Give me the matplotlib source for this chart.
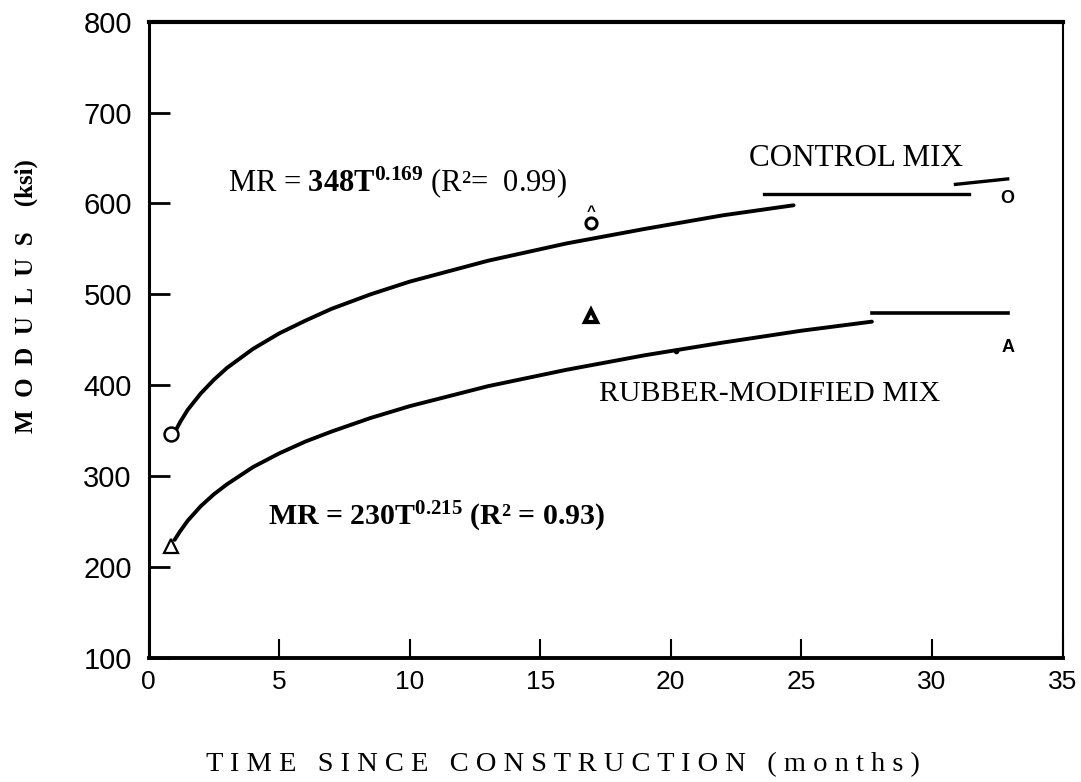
import matplotlib
matplotlib.use('Agg')
import matplotlib.pyplot as plt

# values
ctrl_t = [1, 1.2, 1.5, 2, 2.5, 3, 4, 5, 6, 7, 8.5, 10, 13, 16, 19, 22, 24.7]
ctrl_mr = [348, 359, 373, 391, 406, 419, 440, 457, 471, 484, 500, 514, 537, 556, 572, 587, 598]
rubb_t = [1, 1.2, 1.5, 2, 2.5, 3, 4, 5, 6, 7, 8.5, 10, 13, 16, 19, 22, 25, 27.7]
rubb_mr = [230, 239, 251, 267, 280, 291, 310, 325, 338, 349, 364, 377, 399, 417, 433, 447, 460, 470]

ctrl_flat_t = [23.55, 31.4]
ctrl_flat_mr = [610, 610]
ctrl_tail_t = [30.9, 32.9]
ctrl_tail_mr = [621, 627]
rubb_flat_t = [27.7, 32.9]
rubb_flat_mr = [479, 479]

ctrl_pts_t = [0.85, 16.95]
ctrl_pts_mr = [346, 579]
rubb_pts_t = [0.85, 16.95]
rubb_pts_mr = [223, 476]
dot_t = [20.2]
dot_mr = [438]

xticks = [0, 5, 10, 15, 20, 25, 30, 35]
yticks = [100, 200, 300, 400, 500, 600, 700, 800]

sans = 'Liberation Sans'
serif = 'Liberation Serif'

plt.rcParams['mathtext.fontset'] = 'custom'
plt.rcParams['mathtext.rm'] = serif
plt.rcParams['mathtext.bf'] = serif + ':bold'
plt.rcParams['mathtext.it'] = serif + ':italic'

fig = plt.figure(figsize=(10.81, 7.82), dpi=100)
ax = fig.add_axes([0.1374, 0.1586, 0.8455, 0.8137])

ax.plot(ctrl_t, ctrl_mr, color='black', lw=2.8, solid_capstyle='round')
ax.plot(rubb_t, rubb_mr, color='black', lw=2.8, solid_capstyle='round')
ax.plot(ctrl_flat_t, ctrl_flat_mr, color='black', lw=2.4)
ax.plot(ctrl_tail_t, ctrl_tail_mr, color='black', lw=2.4)
ax.plot(rubb_flat_t, rubb_flat_mr, color='black', lw=2.6)

ax.plot(ctrl_pts_t[:1], ctrl_pts_mr[:1], 'o', ms=10, mfc='white', mec='black', mew=1.8)
ax.plot(ctrl_pts_t[1:], ctrl_pts_mr[1:], 'o', ms=8, mfc='white', mec='black', mew=2.2)
# small caret drawn over the 17-month control point in the scan
ax.text(ctrl_pts_t[1], ctrl_pts_mr[1] + 12, '^', ha='center', va='center', fontsize=11,
        fontfamily=sans, fontweight='bold')
ax.plot(rubb_pts_t[:1], rubb_pts_mr[:1], '^', ms=10, mfc='white', mec='black', mew=1.6)
ax.plot(rubb_pts_t[1:], rubb_pts_mr[1:], '^', ms=9, mfc='white', mec='black', mew=3)
ax.plot(dot_t, dot_mr, 'o', ms=3, color='black')

ax.set_xlim(0, 35)
ax.set_ylim(100, 800)
ax.set_xticks(xticks)
ax.set_yticks(yticks)
ax.set_xticklabels([str(v) for v in xticks], fontfamily=sans, fontsize=19)
ax.set_yticklabels([str(v) for v in yticks], fontfamily=sans, fontsize=21)
ax.tick_params(axis='y', direction='in', length=15, width=2, pad=12)
ax.tick_params(axis='x', direction='in', length=14, width=1.5, pad=9)

ax.spines['top'].set_linewidth(3)
ax.spines['left'].set_linewidth(2.2)
ax.spines['bottom'].set_linewidth(2.8)
ax.spines['right'].set_linewidth(1.5)

# annotations
ax.text(9.55, 624, r'MR = $\mathbf{348T^{0.169}}$ (R²=  0.99)', fontfamily=serif,
        fontsize=22, ha='center', va='center')
ax.text(11.03, 255, r'MR = $\mathbf{230T^{0.215}}$ (R² = 0.93)', fontfamily=serif,
        fontweight='bold', fontsize=21.5, ha='center', va='center')
ax.text(27.1, 649, 'CONTROL MIX', fontfamily=serif, fontsize=22.4, ha='center', va='center')
ax.text(23.8, 390, 'RUBBER-MODIFIED MIX', fontfamily=serif, fontsize=21.5, ha='center', va='center')
ax.text(32.9, 606, 'O', fontfamily=sans, fontweight='bold', fontsize=13, ha='center', va='center')
ax.text(32.9, 441, 'A', fontfamily=sans, fontweight='bold', fontsize=13, ha='center', va='center')

fig.text(0.521, 0.0217, 'T I M E   S I N C E   C O N S T R U C T I O N   ( m o n t h s )',
         fontfamily=serif, fontsize=20.5, ha='center', va='center')
fig.text(0.024, 0.621, 'M  O  D  U  L  U  S    (ksi)', fontfamily=serif, fontweight='bold',
         fontsize=18, rotation=90, ha='center', va='center')

fig.savefig('out.png', dpi=100)
